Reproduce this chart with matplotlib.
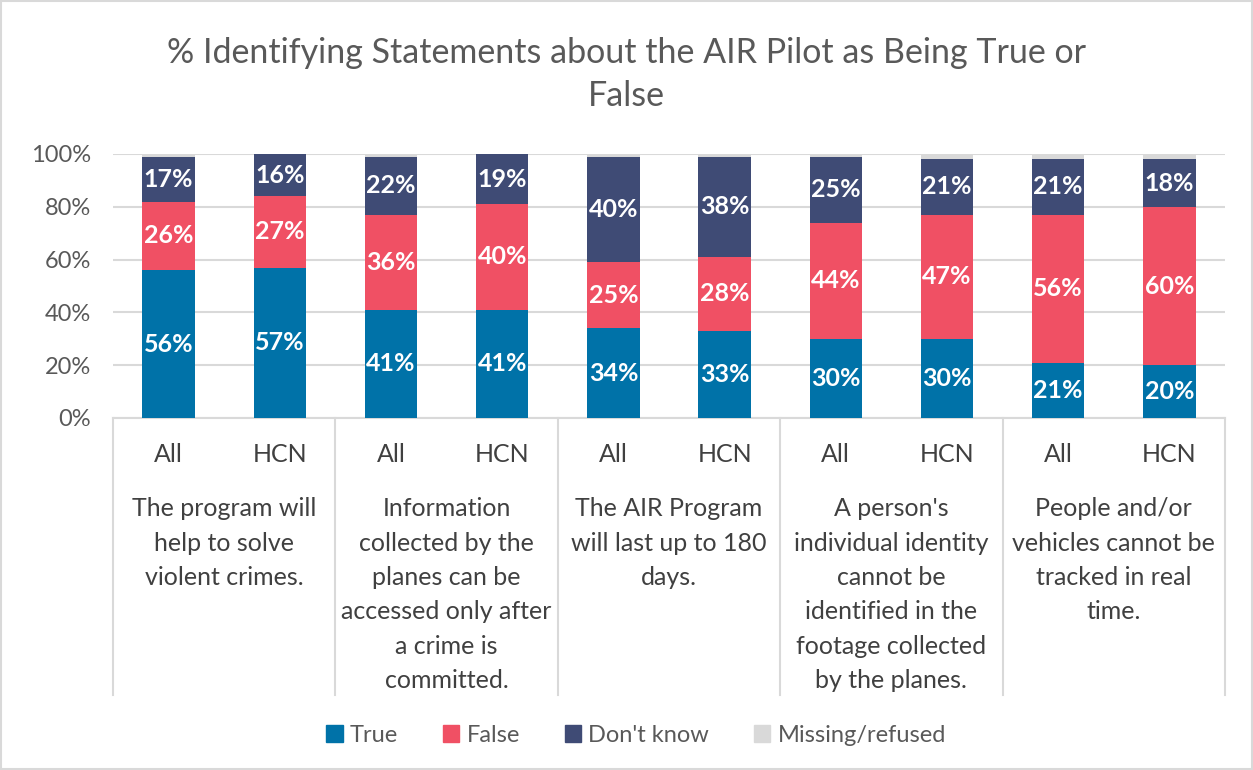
import matplotlib
matplotlib.use("Agg")
import matplotlib.pyplot as plt
import matplotlib.transforms as mtransforms
from matplotlib.patches import Patch, Rectangle

plt.rcParams['font.family'] = ['Lato', 'DejaVu Sans']

statements = ["The program will\nhelp to solve\nviolent crimes.",
              "Information\ncollected by the\nplanes can be\naccessed only after\na crime is\ncommitted.",
              "The AIR Program\nwill last up to 180\ndays.",
              "A person's\nindividual identity\ncannot be\nidentified in the\nfootage collected\nby the planes.",
              "People and/or\nvehicles cannot be\ntracked in real\ntime."]
groups = ["All", "HCN"]

true_pct = [56, 57, 41, 41, 34, 33, 30, 30, 21, 20]
false_pct = [26, 27, 36, 40, 25, 28, 44, 47, 56, 60]
dont_know = [17, 16, 22, 19, 40, 38, 25, 21, 21, 18]
missing = [1, 0, 1, 0, 1, 1, 1, 2, 2, 2]

series = [("True", true_pct, "#0072A8"),
          ("False", false_pct, "#F05064"),
          ("Don't know", dont_know, "#3F4B75"),
          ("Missing/refused", missing, "#D9D9D9")]

fig = plt.figure(figsize=(12.53, 7.70), dpi=100)
ax = fig.add_axes([113 / 1253, (770 - 418) / 770, (1225 - 113) / 1253, (418 - 154) / 770])

x = list(range(len(true_pct)))
bottom = [0] * len(x)
for name, vals, col in series:
    bars = ax.bar(x, vals, width=0.47, bottom=bottom, color=col, label=name, zorder=3)
    if name != "Missing/refused":
        for b, v, y0 in zip(bars, vals, bottom):
            ax.text(b.get_x() + b.get_width() / 2, y0 + v / 2, f"{v}%", ha="center", va="center",
                    color="white", fontsize=18, fontweight="bold", zorder=4)
    bottom = [b + v for b, v in zip(bottom, vals)]

ax.set_xlim(-0.5, len(x) - 0.5)
ax.set_ylim(0, 100)
ax.set_yticks(range(0, 101, 20))
ax.set_yticklabels([f"{t}%" for t in range(0, 101, 20)], fontsize=17, color="#595959")
ax.yaxis.grid(True, color="#D9D9D9", lw=1.5, zorder=0)
ax.set_xticks([])
ax.tick_params(axis="y", length=0, pad=16)
for s in ("top", "right", "left"):
    ax.spines[s].set_visible(False)
ax.spines["bottom"].set_color("#D9D9D9")
ax.spines["bottom"].set_linewidth(1.5)

# two-level category axis below the bars
trans = mtransforms.blended_transform_factory(ax.transData, ax.transAxes)
for k in range(len(statements) + 1):
    xs = 2 * k - 0.5
    ax.plot([xs, xs], [0, -1.05], transform=trans, color="#D9D9D9", lw=1.5, clip_on=False)
for i in x:
    ax.text(i, -0.14, groups[i % 2], transform=trans, ha="center", va="center",
            fontsize=18, color="#404040")
for k, txt in enumerate(statements):
    ax.text(2 * k + 0.5, -0.30, txt, transform=trans, ha="center", va="top",
            fontsize=18, color="#404040", linespacing=1.6)

fig.suptitle("% Identifying Statements about the AIR Pilot as Being True or\nFalse",
             y=0.952, fontsize=24.5, color="#595959", linespacing=1.43)

handles = [Patch(color=c, label=n) for n, _, c in series]
fig.legend(handles=handles, loc="center", bbox_to_anchor=(636 / 1253, 1 - 735 / 770), ncol=4,
           frameon=False, fontsize=17, labelcolor="#595959", handlelength=0.7, handleheight=0.7,
           handletextpad=0.3, columnspacing=1.9)

fig.add_artist(Rectangle((0.001, 0.001), 0.998, 0.998, transform=fig.transFigure,
                         fill=False, edgecolor="#D9D9D9", lw=1.5))

fig.savefig("out.png", dpi=100)
